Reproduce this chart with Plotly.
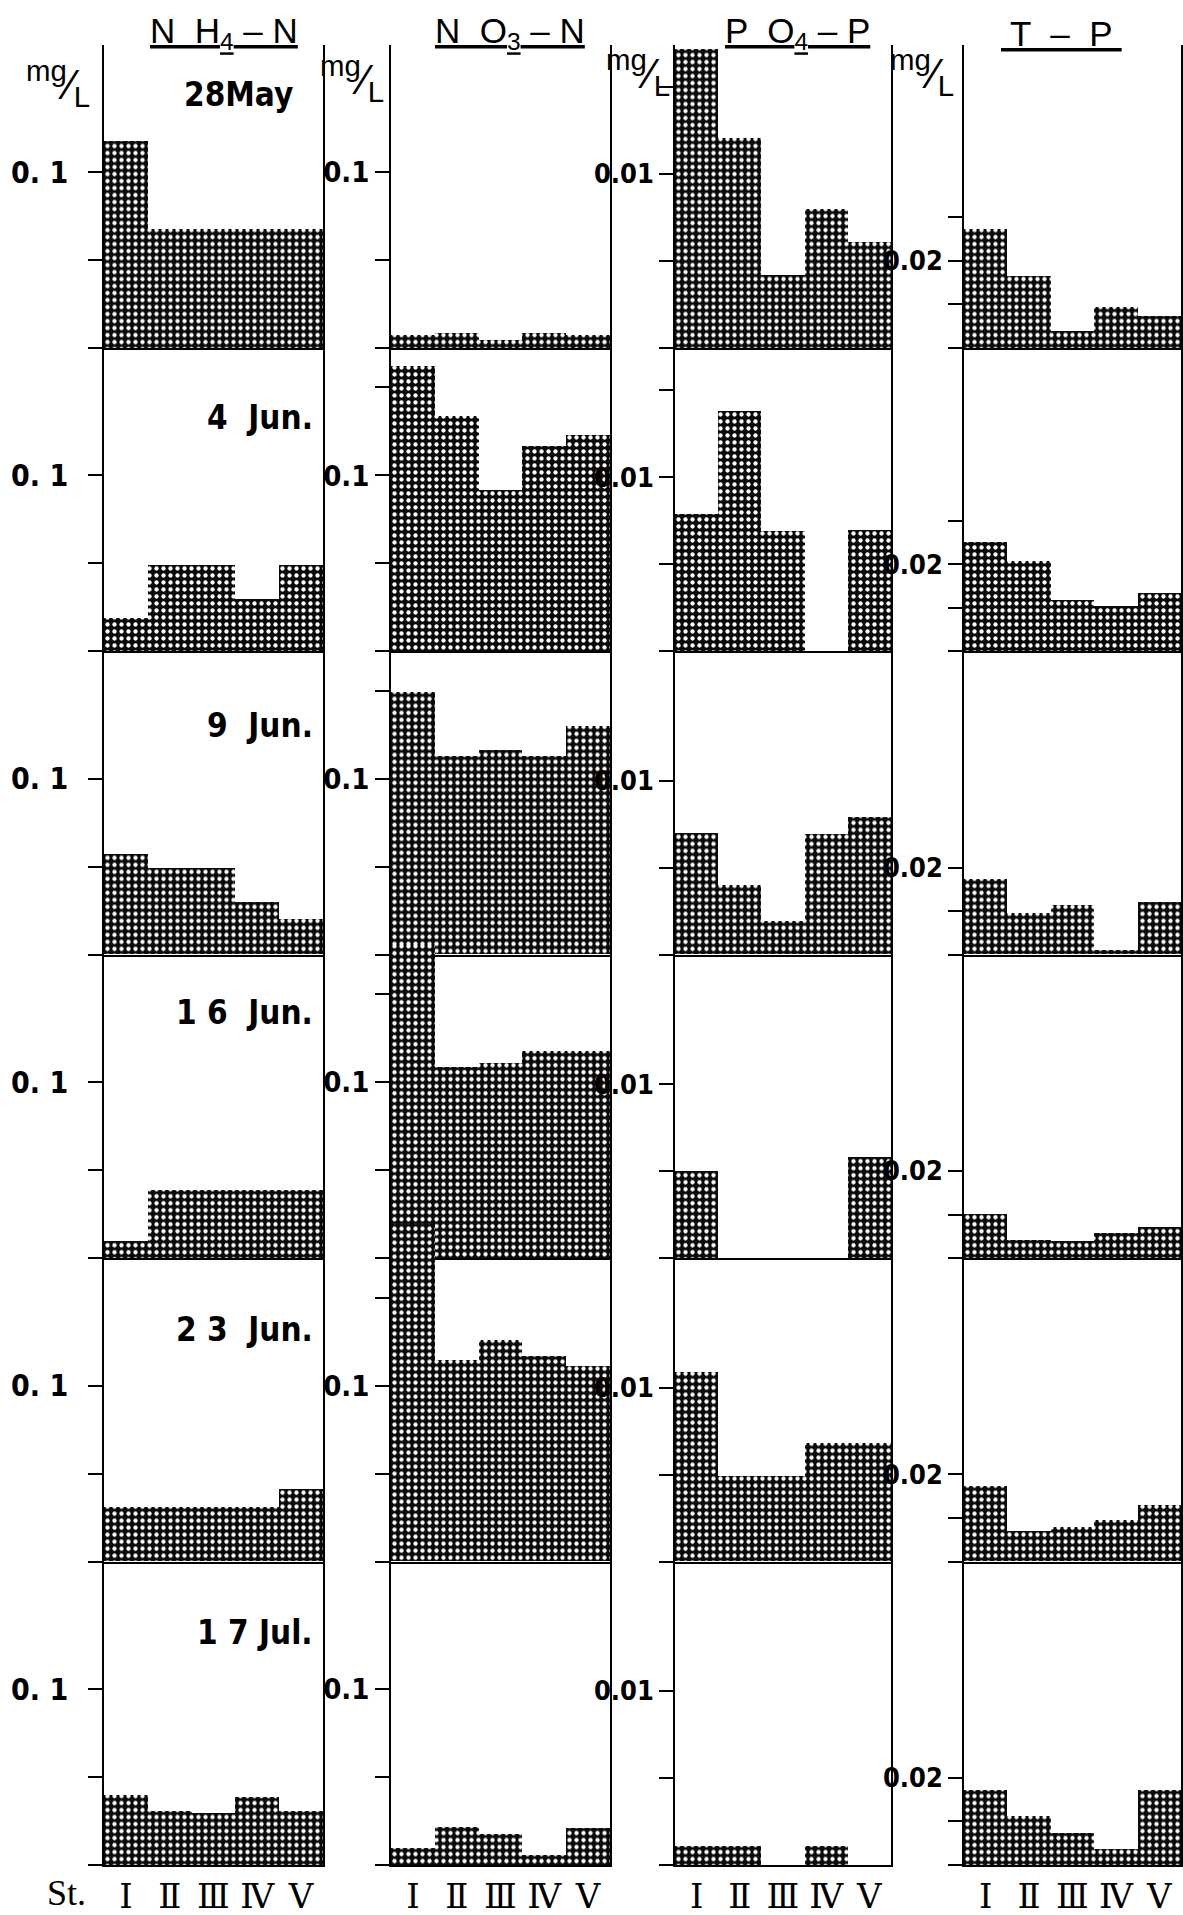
import plotly.graph_objects as go

# ---------------- data (mg/L) ----------------
stations = ["Ⅰ", "Ⅱ", "Ⅲ", "Ⅳ", "Ⅴ"]
dates = ["28May", "4  Jun.", "9  Jun.", "1 6  Jun.", "2 3  Jun.", "1 7 Jul."]
column_titles = ["<u>N  H<sub>4</sub> – N</u>", "<u>N  O<sub>3</sub> – N</u>",
                 "<u>P  O<sub>4</sub> – P</u>", "<u> T  –  P </u>"]

nh4 = [
    [0.118, 0.068, 0.068, 0.068, 0.068],
    [0.019, 0.049, 0.049, 0.030, 0.049],
    [0.057, 0.049, 0.049, 0.030, 0.020],
    [0.010, 0.039, 0.039, 0.039, 0.039],
    [0.031, 0.031, 0.031, 0.031, 0.041],
    [0.040, 0.031, 0.030, 0.039, 0.031],
]
no3 = [
    [0.0074, 0.0085, 0.0045, 0.0085, 0.0075],
    [0.162, 0.134, 0.0915, 0.1165, 0.123],
    [0.149, 0.113, 0.116, 0.113, 0.130],
    [0.178, 0.1085, 0.111, 0.118, 0.118],
    [0.1915, 0.1146, 0.1257, 0.1167, 0.111],
    [0.0097, 0.0216, 0.0176, 0.0057, 0.021],
]
po4 = [
    [0.0172, 0.0121, 0.0042, 0.0080, 0.0061],
    [0.0079, 0.0138, 0.0069, 0.0, 0.0070],
    [0.0070, 0.0040, 0.0019, 0.0069, 0.0079],
    [0.0050, 0.0, 0.0, 0.0, 0.0058],
    [0.0109, 0.0049, 0.0049, 0.0068, 0.0068],
    [0.0011, 0.0011, 0.0, 0.0011, 0.0],
]
tp = [
    [0.0275, 0.0167, 0.0039, 0.0096, 0.0075],
    [0.0252, 0.0208, 0.0119, 0.0105, 0.0133],
    [0.0172, 0.0096, 0.0114, 0.0011, 0.0121],
    [0.0101, 0.0043, 0.0039, 0.0059, 0.0073],
    [0.0172, 0.0069, 0.0078, 0.0094, 0.0130],
    [0.0172, 0.0114, 0.0075, 0.0037, 0.0174],
]
columns = [nh4, no3, po4, tp]

# unlabeled tick values and the single labeled tick per column
minor_ticks = [
    [0, 0.05],
    [0, 0.05, 0.15],
    [0, 0.005, 0.015],
    [0, 0.01, 0.03],
]
tick_label_at = [0.1, 0.1, 0.01, 0.02]
tick_label_txt = ["0. 1", "0.1", "0.01", "0.02"]

# ---------------- layout geometry (pixels) ----------------
W, H = 1183, 1915
col_left = [104, 391, 675, 964]
col_right = [323, 610, 891, 1181]
row_h = 303.4
baselines = [348 + row_h * k for k in range(6)]
px_per_unit = [1760, 1760, 17400, 4360]   # pixels per 1 mg/L
overflow = [0, 40, 0, 0]                  # extra headroom (px) for bars exceeding panel
tick_font_size = [30, 29, 27, 27]
tick_standoff = [14, 0, 0, 0]

NUMFONT = "DejaVu Sans Condensed, DejaVu Sans, sans-serif"
fig = go.Figure()

pattern = dict(shape=".", fillmode="replace", bgcolor="#0a0a0a",
               fgcolor="white", size=7, solidity=0.3)

idx = 0
for r in range(6):
    for c in range(4):
        idx += 1
        sfx = "" if idx == 1 else str(idx)
        ext = overflow[c] if r > 0 else 0
        top_px = baselines[r] - row_h - ext
        bot_px = baselines[r]
        ymax = (row_h + ext) / px_per_unit[c]
        fig.add_trace(go.Bar(
            x=stations, y=columns[c][r],
            xaxis="x" + sfx, yaxis="y" + sfx,
            marker=dict(color="#0a0a0a", line=dict(width=0), pattern=pattern),
            width=1.0, showlegend=False, hoverinfo="skip",
        ))
        mv = list(minor_ticks[c])
        if (c == 1 and (r == 0 or r == 5)) or (c in (2, 3) and r > 1):
            mv = mv[:2]
        fig.layout["xaxis" + sfx] = dict(
            domain=[col_left[c] / W, col_right[c] / W],
            anchor="y" + sfx, type="category", categoryarray=stations,
            range=[-0.5, 4.5], showgrid=False, zeroline=False,
            showline=True, linecolor="black", linewidth=1.5,
            ticks="", showticklabels=(r == 5),
            tickfont=dict(family="DejaVu Serif, serif", size=34, color="black"),
            fixedrange=True,
        )
        fig.layout["yaxis" + sfx] = dict(
            domain=[1 - bot_px / H, 1 - top_px / H],
            anchor="x" + sfx, range=[0, ymax],
            showgrid=False, zeroline=False,
            showline=True, mirror=True, linecolor="black", linewidth=1.5,
            ticks="outside", ticklen=14, tickwidth=1.5, tickcolor="black",
            tickvals=[tick_label_at[c]], ticktext=[tick_label_txt[c]],
            minor=dict(tickvals=mv, ticks="outside", ticklen=14, tickwidth=1.5,
                       tickcolor="black", showgrid=False),
            ticklabelstandoff=tick_standoff[c],
            tickfont=dict(family=NUMFONT, size=tick_font_size[c], color="black",
                          weight="bold"),
            fixedrange=True,
        )

annotations = []
title_x = [224, 510, 797, 1061]
for c in range(4):
    annotations.append(dict(
        xref="paper", yref="paper", x=title_x[c] / W, y=1 - 33 / H,
        text=column_titles[c], showarrow=False, xanchor="center", yanchor="middle",
        font=dict(family="Liberation Sans, Arial", size=35, color="black"),
    ))

mg_pos = [(58, 84), (352, 78), (638, 72), (922, 72)]
for (mx, my) in mg_pos:
    annotations.append(dict(
        xref="paper", yref="paper", x=mx / W, y=1 - my / H,
        text="<sup>mg</sup>⁄<sub>L</sub>", showarrow=False,
        xanchor="center", yanchor="middle",
        font=dict(family="Liberation Sans, Arial", size=42, color="black"),
    ))

date_x = [295, 315, 315, 315, 315, 315]
date_y = [94, 417, 725, 1012, 1329, 1632]
for r in range(6):
    annotations.append(dict(
        xref="paper", yref="paper", x=date_x[r] / W, y=1 - date_y[r] / H,
        text=dates[r], showarrow=False, xanchor="right", yanchor="middle",
        font=dict(family=NUMFONT, size=33, color="black", weight="bold"),
    ))

annotations.append(dict(
    xref="paper", yref="paper", x=66 / W, y=1 - 1893 / H,
    text="St.", showarrow=False, xanchor="center", yanchor="middle",
    font=dict(family="Liberation Serif, serif", size=36, color="black"),
))

fig.update_layout(
    width=W, height=H, margin=dict(l=0, r=0, t=0, b=0, pad=0),
    paper_bgcolor="white", plot_bgcolor="rgba(0,0,0,0)",
    bargap=0, barmode="overlay", annotations=annotations,
    font=dict(family=NUMFONT, color="black"),
)

fig.write_html("out.html")
